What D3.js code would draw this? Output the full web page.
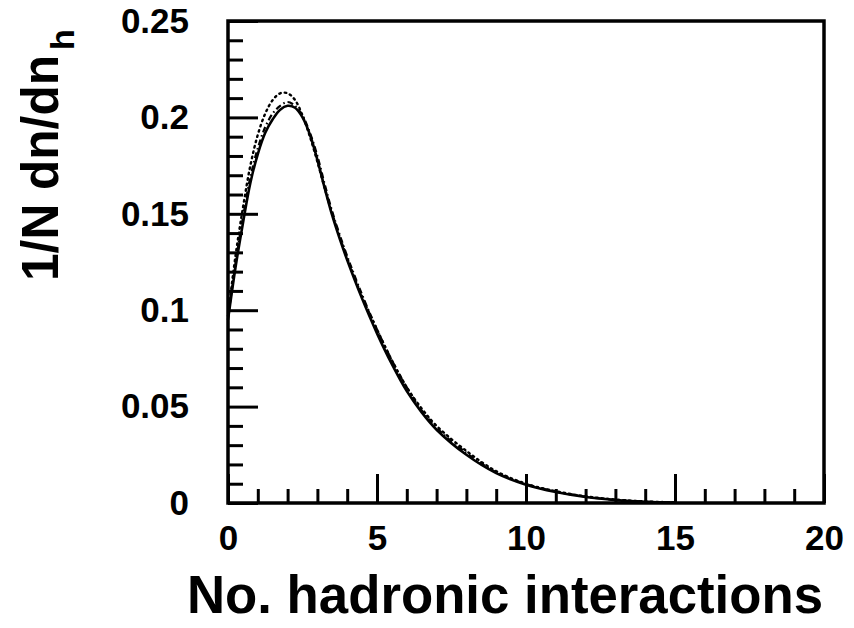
<!DOCTYPE html>
<html>
<head>
<meta charset="utf-8">
<script src="https://cdn.jsdelivr.net/npm/d3@7"></script>
<style>
  html, body { margin: 0; padding: 0; background: #fff; }
  svg { display: block; }
  text { font-family: "Liberation Sans", Arial, sans-serif; font-weight: bold; fill: #000; }
</style>
</head>
<body>
<svg id="chart" width="854" height="628"></svg>
<script>
// Number of hadronic interactions (x) and normalised distributions 1/N dn/dn_h
const nH = [0, 0.25, 0.5, 0.75, 1, 1.25, 1.5, 1.75, 2, 2.25, 2.5, 2.75, 3, 3.25, 3.5, 3.75, 4, 4.5, 5, 5.5, 6, 6.5, 7, 8, 9, 10, 11, 12, 13, 14, 15];
const solidSeries  = [0.095, 0.122, 0.145, 0.166, 0.181, 0.192, 0.199, 0.204, 0.206, 0.205, 0.200, 0.191, 0.178, 0.163, 0.149, 0.137, 0.126, 0.106, 0.088, 0.072, 0.058, 0.047, 0.038, 0.025, 0.0155, 0.0095, 0.0057, 0.0031, 0.0015, 0.0006, 0.0002];
const dashedSeries = [0.096, 0.124, 0.148, 0.169, 0.184, 0.195, 0.202, 0.206, 0.208, 0.206, 0.201, 0.192, 0.180, 0.165, 0.151, 0.139, 0.128, 0.108, 0.090, 0.074, 0.060, 0.048, 0.039, 0.026, 0.0160, 0.0098, 0.0059, 0.0033, 0.0016, 0.0007, 0.0002];
const dottedSeries = [0.097, 0.128, 0.153, 0.175, 0.191, 0.202, 0.209, 0.2125, 0.2125, 0.209, 0.201, 0.190, 0.177, 0.163, 0.150, 0.138, 0.127, 0.107, 0.090, 0.074, 0.060, 0.049, 0.040, 0.027, 0.0165, 0.0100, 0.0061, 0.0035, 0.0018, 0.0008, 0.0003];

const xTickValues = [0, 5, 10, 15, 20];
const xTickLabels = ["0", "5", "10", "15", "20"];
const yTickValues = [0, 0.05, 0.1, 0.15, 0.2, 0.25];
const yTickLabels = ["0", "0.05", "0.1", "0.15", "0.2", "0.25"];

const svg = d3.select("#chart");
const plotLeft = 228, plotRight = 824, plotTop = 21, plotBottom = 503;

const x = d3.scaleLinear().domain([0, 20]).range([plotLeft, plotRight]);
const y = d3.scaleLinear().domain([0, 0.25]).range([plotBottom, plotTop]);

const fontFamily = "Liberation Sans, Arial, sans-serif";
const tickFont = 35;

// minor ticks
const xMinor = d3.range(0, 21, 1).filter(v => v % 5 !== 0);
const yMinor = d3.range(0, 26, 1).filter(v => v % 5 !== 0).map(v => v / 100);

svg.append("g")
  .attr("transform", `translate(0,${plotBottom})`)
  .call(d3.axisBottom(x).tickValues(xMinor).tickSize(-14).tickFormat(""))
  .call(g => g.select(".domain").remove())
  .call(g => g.selectAll("line").attr("stroke", "#000").attr("stroke-width", 3));

svg.append("g")
  .attr("transform", `translate(${plotLeft},0)`)
  .call(d3.axisLeft(y).tickValues(yMinor).tickSize(-15).tickFormat(""))
  .call(g => g.select(".domain").remove())
  .call(g => g.selectAll("line").attr("stroke", "#000").attr("stroke-width", 3));

// major ticks with labels
svg.append("g")
  .attr("transform", `translate(0,${plotBottom})`)
  .call(d3.axisBottom(x).tickValues(xTickValues).tickSize(-29).tickPadding(22)
    .tickFormat((d, i) => xTickLabels[i]))
  .call(g => g.select(".domain").remove())
  .call(g => g.selectAll("line").attr("stroke", "#000").attr("stroke-width", 3))
  .call(g => g.selectAll("text").attr("font-size", tickFont).attr("font-family", fontFamily)
    .attr("font-weight", "bold").attr("fill", "#000"));

svg.append("g")
  .attr("transform", `translate(${plotLeft},0)`)
  .call(d3.axisLeft(y).tickValues(yTickValues).tickSize(-30).tickPadding(39)
    .tickFormat((d, i) => yTickLabels[i]))
  .call(g => g.select(".domain").remove())
  .call(g => g.selectAll("line").attr("stroke", "#000").attr("stroke-width", 3))
  .call(g => g.selectAll("text").attr("font-size", tickFont).attr("font-family", fontFamily)
    .attr("font-weight", "bold").attr("fill", "#000"));

// frame
svg.append("rect")
  .attr("x", plotLeft).attr("y", plotTop)
  .attr("width", plotRight - plotLeft).attr("height", plotBottom - plotTop)
  .attr("fill", "none").attr("stroke", "#000").attr("stroke-width", 3.5);

// curves
const line = series => d3.line()
  .x((d, i) => x(nH[i]))
  .y(d => y(d))
  .curve(d3.curveCatmullRom)(series);

svg.append("path").attr("d", line(dottedSeries))
  .attr("fill", "none").attr("stroke", "#000").attr("stroke-width", 2.4)
  .attr("stroke-dasharray", "1.5,4").attr("stroke-linecap", "round");
svg.append("path").attr("d", line(dashedSeries))
  .attr("fill", "none").attr("stroke", "#000").attr("stroke-width", 2.2)
  .attr("stroke-dasharray", "6,3,1.5,3");
svg.append("path").attr("d", line(solidSeries))
  .attr("fill", "none").attr("stroke", "#000").attr("stroke-width", 2.6);

// axis titles
svg.append("text")
  .attr("x", 187).attr("y", 613)
  .attr("font-size", 53)
  .attr("textLength", 636)
  .attr("lengthAdjust", "spacingAndGlyphs")
  .text("No. hadronic interactions");

svg.append("text")
  .attr("transform", "translate(58,281) rotate(-90)")
  .attr("font-size", 52)
  .attr("textLength", 226)
  .attr("lengthAdjust", "spacingAndGlyphs")
  .text("1/N dn/dn");
svg.append("text")
  .attr("transform", "translate(74,50) rotate(-90)")
  .attr("font-size", 34)
  .text("h");
</script>
</body>
</html>
